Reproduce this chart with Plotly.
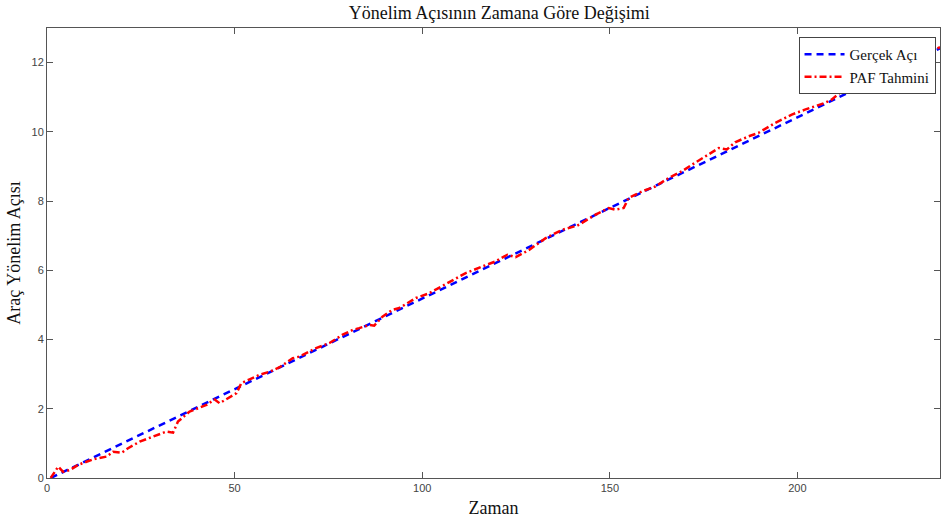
import plotly.graph_objects as go

# True heading: straight line (endpoints)
true_t = [1, 238]
true_v = [0.0, 12.41]

# PAF estimate
paf_t = [1, 3, 4.3, 6.1, 8.3, 12.3, 15.9, 17.6, 19.9, 21.6, 24.7, 29.2, 31.8, 33.6, 34.9,
         38, 42.5, 44.7, 46, 50.5, 51.8, 54, 56.6, 59.3, 62, 65.5, 67.3, 71.7, 75.3, 78.8,
         81.5, 83.2, 85.9, 87.2, 89.4, 92.1, 93.9, 98.3, 101.9, 105.4, 107.2, 111.6, 116,
         119.6, 122.7, 124.9, 128.5, 132.9, 137.3, 141.3, 142.6, 146.2, 149.7, 151.5, 153.7,
         155, 158.6, 162.1, 165.7, 169.2, 171.9, 175.5, 179, 181.2, 183.4, 187, 189.6, 194.1,
         198.5, 202, 204.7, 207.4, 209.1, 211.8, 214.5, 217.6, 222, 228, 233, 238]
paf_v = [0.0, 0.33, 0.18, 0.23, 0.38, 0.54, 0.62, 0.76, 0.73, 0.86, 1.05, 1.24, 1.34, 1.31, 1.63,
         1.92, 2.11, 2.27, 2.16, 2.45, 2.74, 2.85, 2.98, 3.07, 3.20, 3.46, 3.51, 3.75, 3.90, 4.14,
         4.28, 4.33, 4.42, 4.40, 4.66, 4.86, 4.91, 5.20, 5.34, 5.55, 5.66, 5.92, 6.11,
         6.26, 6.45, 6.38, 6.59, 6.93, 7.17, 7.29, 7.37, 7.61, 7.80, 7.75, 7.80,
         8.09, 8.28, 8.42, 8.67, 8.86, 9.05, 9.29, 9.53, 9.49, 9.70, 9.87, 9.97, 10.26,
         10.50, 10.64, 10.74, 10.84, 10.93, 11.17, 11.17, 11.36, 11.58, 11.92, 12.18, 12.45]

x_ticks = [0, 50, 100, 150, 200]
y_ticks = [0, 2, 4, 6, 8, 10, 12]

fig = go.Figure()
fig.add_trace(go.Scatter(x=true_t, y=true_v, mode="lines", name="Gerçek Açı",
                         line=dict(color="#0000ff", width=2.5, dash="7px,5px")))
fig.add_trace(go.Scatter(x=paf_t, y=paf_v, mode="lines", name="PAF Tahmini",
                         line=dict(color="#ff0000", width=2.5, dash="7px,3px,2px,3px")))

axis_common = dict(showgrid=False, zeroline=False, showline=True, linecolor="#555555",
                   linewidth=1, mirror="ticks", ticks="inside", ticklen=6, tickcolor="#555555",
                   tickfont=dict(family="Liberation Sans, Arial", size=11, color="#444444"))

fig.update_layout(
    width=942, height=525,
    margin=dict(l=47, r=2, t=28, b=47),
    paper_bgcolor="white", plot_bgcolor="white",
    title=dict(text="Yönelim Açısının Zamana Göre Değişimi", x=0.53, xanchor="center",
               y=0.975, yanchor="middle",
               font=dict(family="Liberation Serif, Times New Roman", size=18, color="#111111")),
    xaxis=dict(range=[0, 238], tickvals=x_ticks,
               title=dict(text="Zaman", standoff=8,
                          font=dict(family="Liberation Serif, Times New Roman", size=18, color="#111111")),
               **axis_common),
    yaxis=dict(range=[0, 13], tickvals=y_ticks,
               title=dict(text="Araç Yönelim Açısı", standoff=6,
                          font=dict(family="Liberation Serif, Times New Roman", size=18, color="#111111")),
               **axis_common),
    legend=dict(x=0.995, y=0.98, xanchor="right", yanchor="top",
                bgcolor="white", bordercolor="#444444", borderwidth=1,
                font=dict(family="Liberation Serif, Times New Roman", size=15, color="#111111"),
                tracegroupgap=0, itemwidth=40),
    showlegend=True,
)

fig.write_html("out.html")
